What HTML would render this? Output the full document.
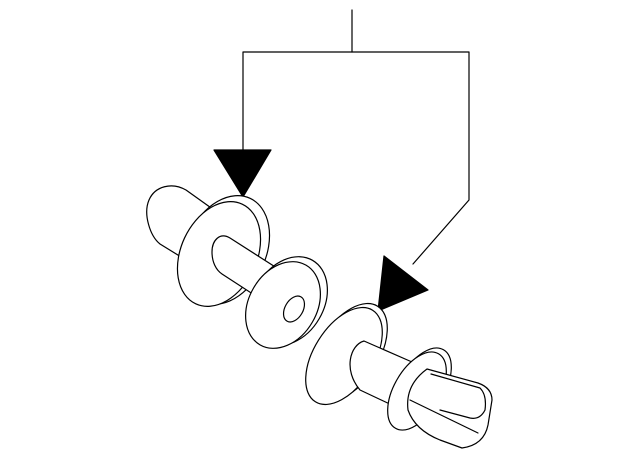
<!DOCTYPE html>
<html><head><style>html,body{margin:0;padding:0;background:#fff}svg{display:block}</style></head>
<body>
<svg width="640" height="459" viewBox="0 0 640 459" xmlns="http://www.w3.org/2000/svg" fill="none" stroke="#000" stroke-width="1.2" stroke-linejoin="round" stroke-linecap="round">
<!-- leader lines -->
<polyline points="352,10 352,52"/>
<polyline points="243,150 243,52 469,52 469,200 413,264"/>
<polygon points="214,150 271,150 243,197" fill="#000"/>
<polygon points="378,311 384,256 428,290" fill="#000"/>

<!-- part 1 -->
<path d="M214,210 L186,190 C172,182 155,186 149,200 C143,214 150,236 160,244 L186,260" fill="#fff"/>
<ellipse cx="226" cy="250" rx="40" ry="57" transform="rotate(25 226 250)" fill="#fff"/>
<ellipse cx="219" cy="254" rx="38" ry="55" transform="rotate(25 219 254)" fill="#fff"/>
<path d="M280,270 L230,238 C220,232 212,240 212,252 C212,262 216,270 222,274 L262,300" fill="#fff"/>
<ellipse cx="289" cy="301" rx="35" ry="47" transform="rotate(30 289 301)" fill="#fff"/>
<ellipse cx="283" cy="305" rx="34" ry="46" transform="rotate(30 283 305)" fill="#fff"/>
<ellipse cx="294" cy="309" rx="9" ry="14" transform="rotate(30 294 309)"/>

<!-- part 2 -->
<ellipse cx="349" cy="352" rx="30" ry="54" transform="rotate(32 349 352)" fill="#fff"/>
<ellipse cx="344" cy="356" rx="30" ry="54" transform="rotate(32 344 356)" fill="#fff"/>
<path d="M412,362 L364,341 C350,345 343,370 360,390 L394,406" fill="#fff"/>
<ellipse cx="422" cy="387" rx="23" ry="43" transform="rotate(30 422 387)" fill="#fff"/>
<ellipse cx="417" cy="391" rx="23" ry="43" transform="rotate(30 417 391)" fill="#fff"/>
<path d="M427,369 L478,383 Q492,388 492,400 L488,425 Q484,445 462,448 L440,440 Q415,430 408,410 Q405,385 427,369 Z" fill="#fff"/>
<path d="M431,374 L480,388 Q487,395 485,410 Q480,420 470,418 L440,410"/>
<path d="M410,400 L478,433"/>
</svg>
</body></html>
